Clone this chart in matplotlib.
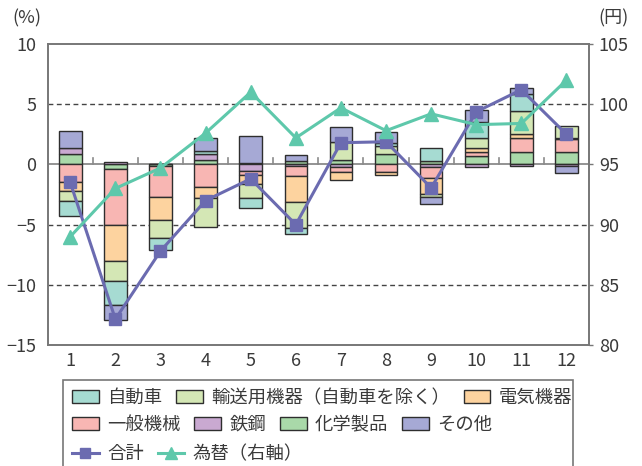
import matplotlib
matplotlib.use('Agg')
import matplotlib.pyplot as plt
import numpy as np
from matplotlib.patches import Rectangle, Patch
from matplotlib.lines import Line2D

plt.rcParams['font.family'] = ['Noto Sans CJK JP', 'DejaVu Sans']

# ---------------- data ----------------
months = [1, 2, 3, 4, 5, 6, 7, 8, 9, 10, 11, 12]
month_labels = ['1', '2', '3', '4', '5', '6', '7', '8', '9', '10', '11', '12']

autos      = [-1.25, -2.0, -1.05, 0.2, -0.78, -0.5, 0.0, 0.25, 1.13, 1.27, 1.44, 0.0]
transport  = [-0.8, -1.65, -1.5, -2.38, -1.2, -2.13, 1.55, 0.7, -0.25, 0.86, 1.94, 1.0]
electrical = [-0.8, -3.05, -1.9, -0.95, -0.7, -2.13, -0.65, -0.28, -1.35, 0.3, 0.28, 0.08]
machinery  = [-1.44, -4.6, -2.55, -1.85, -0.36, -0.9, -0.45, -0.6, -0.9, 0.38, 1.16, 1.05]
steel      = [0.44, 0.17, 0.05, 0.55, -0.55, -0.1, -0.2, 0.0, -0.2, -0.22, -0.17, -0.17]
chemicals  = [0.89, -0.4, -0.15, 0.33, 0.08, 0.3, 0.35, 0.83, 0.25, 0.68, 1.05, 1.05]
others     = [1.47, -1.25, 0.0, 1.08, 2.25, 0.45, 1.2, 0.95, -0.6, 1.05, 0.5, -0.52]

total = [-1.5, -12.85, -7.2, -3.0, -1.2, -5.0, 1.8, 1.88, -1.95, 4.37, 6.2, 2.5]
fx_rate = [89.0, 93.0, 94.7, 97.6, 101.0, 97.2, 99.7, 97.8, 99.2, 98.3, 98.4, 102.0]

names = ['自動車', '輸送用機器（自動車を除く）', '電気機器', '一般機械', '鉄鋼', '化学製品', 'その他']
colors = {'自動車': '#a6dbd2', '輸送用機器（自動車を除く）': '#d4e7b5', '電気機器': '#fdd39f',
          '一般機械': '#f8b6b3', '鉄鋼': '#c9a9d1', '化学製品': '#a9d9a9', 'その他': '#a6a9d5'}
series = {'自動車': autos, '輸送用機器（自動車を除く）': transport, '電気機器': electrical,
          '一般機械': machinery, '鉄鋼': steel, '化学製品': chemicals, 'その他': others}
stack_order = ['化学製品', '鉄鋼', '一般機械', '電気機器', '輸送用機器（自動車を除く）', '自動車', 'その他']

line_total_color = '#6b6bb0'
line_fx_color = '#5ec8ab'
text_color = '#3a3a3a'
fs = 13
lfs = 13.2

# ---------------- figure ----------------
fig = plt.figure(figsize=(6.42, 4.66), dpi=100)
ax = fig.add_axes([0.0743, 0.2597, 0.8432, 0.6459])

x = np.array(months, dtype=float)
pos_bottom = np.zeros(len(x))
neg_bottom = np.zeros(len(x))
for name in stack_order:
    v = np.array(series[name], dtype=float)
    bottom = np.where(v >= 0, pos_bottom, neg_bottom)
    mask = v != 0
    ax.bar(x[mask], v[mask], bottom=bottom[mask], width=0.5, color=colors[name],
           edgecolor='#2e2e2e', linewidth=1.0, zorder=3)
    pos_bottom = pos_bottom + np.where(v > 0, v, 0)
    neg_bottom = neg_bottom + np.where(v < 0, v, 0)

# zero line and boundary ticks
ax.axhline(0, color='#8a8a8a', lw=1.3, zorder=2)
for b in np.arange(1.5, 12.5, 1.0):
    ax.plot([b, b], [0, 0.5], color='#8a8a8a', lw=1.2, zorder=2)

# dashed grid
for g in [5, -5, -10]:
    ax.axhline(g, color='#444444', lw=1.0, ls=(0, (3.5, 2.5)), zorder=1)

ax.plot(x, total, color=line_total_color, lw=2.2, marker='s', markersize=8.5, zorder=5)

ax.set_xlim(0.5, 12.5)
ax.set_ylim(-15, 10)
ax.set_yticks([-15, -10, -5, 0, 5, 10])
ax.set_xticks(months)
ax.set_xticklabels(month_labels)
ax.tick_params(axis='x', length=0, pad=5, labelsize=fs, colors=text_color)
ax.tick_params(axis='y', length=0, pad=8, labelsize=fs, colors=text_color)
for s in ['left', 'bottom', 'top', 'right']:
    ax.spines[s].set_color('#777777')
    ax.spines[s].set_linewidth(1.2)

ax2 = ax.twinx()
ax2.plot(x, fx_rate, color=line_fx_color, lw=2.2, marker='^', markersize=10, zorder=6)
ax2.set_ylim(80, 105)
ax2.set_yticks([80, 85, 90, 95, 100, 105])
ax2.tick_params(axis='y', length=3, width=1.0, color='#777777', pad=4, labelsize=fs, colors=text_color)
for s in ['left', 'bottom', 'top', 'right']:
    ax2.spines[s].set_color('#777777')
    ax2.spines[s].set_linewidth(1.2)

fig.text(12 / 642, 1 - 18 / 466, '(%)', ha='left', va='center', fontsize=fs, color=text_color)
fig.text(629 / 642, 1 - 18 / 466, '(円)', ha='right', va='center', fontsize=fs, color=text_color)

# ---------------- legend ----------------
def patch(name):
    return Patch(facecolor=colors[name], edgecolor='#2e2e2e', linewidth=1.0, label=name)

rows = [
    [patch('自動車'), patch('輸送用機器（自動車を除く）'), patch('電気機器')],
    [patch('一般機械'), patch('鉄鋼'), patch('化学製品'), patch('その他')],
    [Line2D([], [], color=line_total_color, lw=2.2, marker='s', markersize=7, label='合計'),
     Line2D([], [], color=line_fx_color, lw=2.2, marker='^', markersize=8, label='為替（右軸）')],
]
row_y = [1 - 398 / 466, 1 - 425 / 466, 1 - 454 / 466]
for handles, yy in zip(rows, row_y):
    leg = fig.legend(handles=handles, loc='center left', bbox_to_anchor=(72 / 642, yy),
                     ncol=len(handles), frameon=False, fontsize=lfs, borderpad=0,
                     borderaxespad=0, handlelength=1.47, handleheight=0.68,
                     handletextpad=0.44, columnspacing=0.75)
    for t in leg.get_texts():
        t.set_color(text_color)

fig.patches.append(Rectangle((63 / 642, -0.01), 510 / 642, (466 - 380) / 466 + 0.01,
                             transform=fig.transFigure, fill=False,
                             edgecolor='#777777', linewidth=1.2))

fig.savefig('out.png', dpi=100)
